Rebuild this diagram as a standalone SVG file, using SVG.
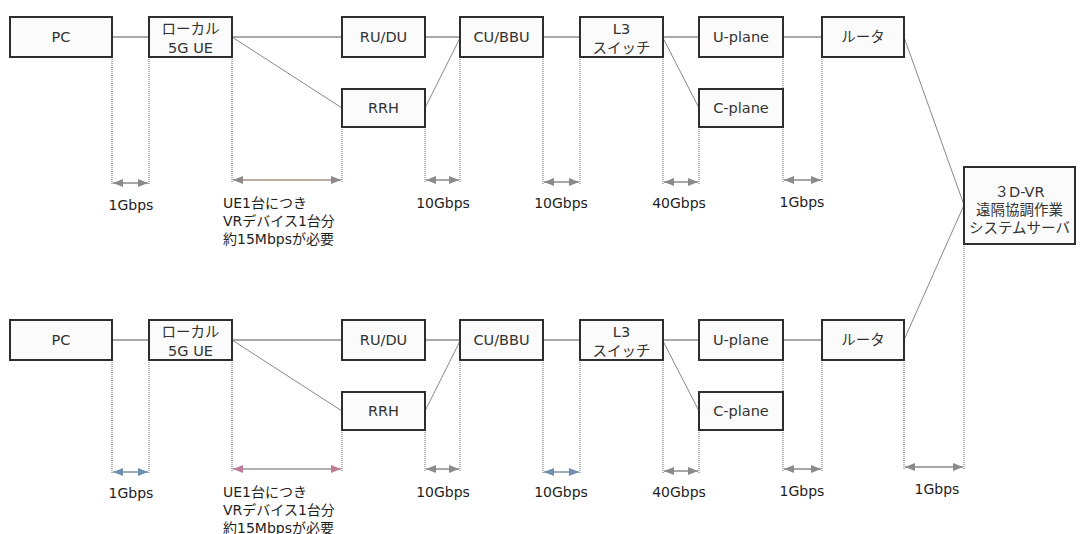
<svg xmlns="http://www.w3.org/2000/svg" width="1081" height="534" viewBox="0 0 1081 534">
<style>
.box{fill:#fbfbfb;stroke:#2e2e2e;stroke-width:2}
.bt{font-family:"DejaVu Sans","Noto Sans CJK JP",sans-serif;font-size:14.5px;fill:#333;text-anchor:middle}
.lb{font-family:"DejaVu Sans","Noto Sans CJK JP",sans-serif;font-size:14px;fill:#1e1e1e}
.c{text-anchor:middle}
.ln{stroke:#555;stroke-width:1;fill:none}
.dg{stroke:#888;stroke-width:1;fill:none}
.dt{stroke:#6a6a6a;stroke-width:1;stroke-dasharray:1 1;fill:none}
.ag{stroke:#8a8a8a;stroke-width:1.5;marker-start:url(#hg);marker-end:url(#hg)}
.ab{stroke:#7a90a8;stroke-width:1.5;marker-start:url(#hb);marker-end:url(#hb)}
.ap{stroke:#a09494;stroke-width:1.5;marker-start:url(#hp);marker-end:url(#hp)}
.ar{stroke:#a89080;stroke-width:1.5;marker-start:url(#hg);marker-end:url(#hg)}
</style>
<defs>
<marker id="hg" markerUnits="userSpaceOnUse" markerWidth="10" markerHeight="8" refX="10" refY="4" orient="auto-start-reverse"><path d="M0,0 L10,4 L0,8 z" fill="#8a8a8a"/></marker>
<marker id="hb" markerUnits="userSpaceOnUse" markerWidth="10" markerHeight="8" refX="10" refY="4" orient="auto-start-reverse"><path d="M0,0 L10,4 L0,8 z" fill="#6f8fb0"/></marker>
<marker id="hp" markerUnits="userSpaceOnUse" markerWidth="10" markerHeight="8" refX="10" refY="4" orient="auto-start-reverse"><path d="M0,0 L10,4 L0,8 z" fill="#c07c98"/></marker>
</defs>

<g id="connectors">
<line class="ln" x1="112" y1="37" x2="149" y2="37"/>
<line class="ln" x1="232" y1="37" x2="342" y2="37"/>
<line class="dg" x1="232" y1="37" x2="342" y2="108"/>
<line class="ln" x1="425" y1="37" x2="460" y2="37"/>
<line class="dg" x1="425" y1="108" x2="460" y2="38"/>
<line class="ln" x1="543" y1="37" x2="580" y2="37"/>
<line class="ln" x1="663" y1="37" x2="699" y2="37"/>
<line class="dg" x1="663" y1="38" x2="699" y2="108"/>
<line class="ln" x1="783" y1="37" x2="822" y2="37"/>
<line class="dg" x1="904" y1="37" x2="964" y2="205"/>
<line class="ln" x1="112" y1="340" x2="149" y2="340"/>
<line class="ln" x1="232" y1="340" x2="342" y2="340"/>
<line class="dg" x1="232" y1="340" x2="342" y2="411"/>
<line class="ln" x1="425" y1="340" x2="460" y2="340"/>
<line class="dg" x1="425" y1="411" x2="460" y2="341"/>
<line class="ln" x1="543" y1="340" x2="580" y2="340"/>
<line class="ln" x1="663" y1="340" x2="699" y2="340"/>
<line class="dg" x1="663" y1="341" x2="699" y2="411"/>
<line class="ln" x1="783" y1="340" x2="822" y2="340"/>
<line class="dg" x1="904" y1="340" x2="964" y2="205"/>

<path class="dt" d="M112,57V185 M149,57V185 M232,57V183 M342,127V183 M425,127V183 M460,57V183 M543,57V185 M580,57V185 M663,57V185 M699,127V185 M783,57V183 M822,57V183"/>
<path class="dt" d="M112,360V474 M149,360V474 M232,360V471 M342,430V471 M425,430V471 M460,360V471 M543,360V474 M580,360V474 M663,360V473 M699,430V473 M783,360V471 M822,360V471 M904,360V470 M964,244V470"/>

<line class="ag" x1="113" y1="183" x2="148" y2="183"/>
<line class="ar" x1="233" y1="180" x2="341" y2="180"/>
<line class="ag" x1="426" y1="180" x2="459" y2="180"/>
<line class="ag" x1="544" y1="182" x2="579" y2="182"/>
<line class="ag" x1="664" y1="182" x2="698" y2="182"/>
<line class="ag" x1="784" y1="180" x2="821" y2="180"/>
<line class="ab" x1="113" y1="472" x2="148" y2="472"/>
<line class="ap" x1="233" y1="469" x2="341" y2="469"/>
<line class="ag" x1="426" y1="469" x2="459" y2="469"/>
<line class="ab" x1="544" y1="472" x2="579" y2="472"/>
<line class="ag" x1="664" y1="471" x2="698" y2="471"/>
<line class="ag" x1="784" y1="469" x2="821" y2="469"/>
<line class="ag" x1="905" y1="467" x2="963" y2="467"/>
</g>

<g id="pc1"><rect class="box" x="10" y="17" width="102" height="40"/><text class="bt" x="61" y="42">PC</text></g>
<g id="ue1"><rect class="box" x="149" y="17" width="83" height="40"/><text class="bt" x="190.5" y="34">ローカル</text><text class="bt" x="190.5" y="53">5G UE</text></g>
<g id="rudu1"><rect class="box" x="342" y="17" width="83" height="40"/><text class="bt" x="383.5" y="42">RU/DU</text></g>
<g id="rrh1"><rect class="box" x="342" y="89" width="83" height="38"/><text class="bt" x="383.5" y="113">RRH</text></g>
<g id="cubbu1"><rect class="box" x="460" y="17" width="83" height="40"/><text class="bt" x="501.5" y="42">CU/BBU</text></g>
<g id="l31"><rect class="box" x="580" y="17" width="83" height="40"/><text class="bt" x="621.5" y="34">L3</text><text class="bt" x="621.5" y="53">スイッチ</text></g>
<g id="uplane1"><rect class="box" x="699" y="17" width="84" height="40"/><text class="bt" x="741" y="42">U-plane</text></g>
<g id="cplane1"><rect class="box" x="699" y="89" width="84" height="38"/><text class="bt" x="741" y="113">C-plane</text></g>
<g id="router1"><rect class="box" x="822" y="17" width="82" height="40"/><text class="bt" x="863" y="42">ルータ</text></g>

<g id="server"><rect class="box" x="964" y="167" width="111" height="77"/>
<text class="bt" x="1019.5" y="197">３D-VR</text>
<text class="bt" x="1019.5" y="215">遠隔協調作業</text>
<text class="bt" x="1019.5" y="233">システムサーバ</text></g>

<g id="pc2"><rect class="box" x="10" y="320" width="102" height="40"/><text class="bt" x="61" y="345">PC</text></g>
<g id="ue2"><rect class="box" x="149" y="320" width="83" height="40"/><text class="bt" x="190.5" y="337">ローカル</text><text class="bt" x="190.5" y="356">5G UE</text></g>
<g id="rudu2"><rect class="box" x="342" y="320" width="83" height="40"/><text class="bt" x="383.5" y="345">RU/DU</text></g>
<g id="rrh2"><rect class="box" x="342" y="392" width="83" height="38"/><text class="bt" x="383.5" y="416">RRH</text></g>
<g id="cubbu2"><rect class="box" x="460" y="320" width="83" height="40"/><text class="bt" x="501.5" y="345">CU/BBU</text></g>
<g id="l32"><rect class="box" x="580" y="320" width="83" height="40"/><text class="bt" x="621.5" y="337">L3</text><text class="bt" x="621.5" y="356">スイッチ</text></g>
<g id="uplane2"><rect class="box" x="699" y="320" width="84" height="40"/><text class="bt" x="741" y="345">U-plane</text></g>
<g id="cplane2"><rect class="box" x="699" y="392" width="84" height="38"/><text class="bt" x="741" y="416">C-plane</text></g>
<g id="router2"><rect class="box" x="822" y="320" width="82" height="40"/><text class="bt" x="863" y="345">ルータ</text></g>

<g id="labels-top">
<text class="lb c" x="131" y="210">1Gbps</text>
<text class="lb" x="223" y="208">UE1台につき</text>
<text class="lb" x="223" y="226">VRデバイス1台分</text>
<text class="lb" x="223" y="244">約15Mbpsが必要</text>
<text class="lb c" x="443" y="208">10Gbps</text>
<text class="lb c" x="561" y="208">10Gbps</text>
<text class="lb c" x="679" y="208">40Gbps</text>
<text class="lb c" x="802" y="207">1Gbps</text>
</g>
<g id="labels-bottom">
<text class="lb c" x="131" y="498">1Gbps</text>
<text class="lb" x="223" y="497">UE1台につき</text>
<text class="lb" x="223" y="515">VRデバイス1台分</text>
<text class="lb" x="223" y="533">約15Mbpsが必要</text>
<text class="lb c" x="443" y="497">10Gbps</text>
<text class="lb c" x="561" y="497">10Gbps</text>
<text class="lb c" x="679" y="497">40Gbps</text>
<text class="lb c" x="802" y="496">1Gbps</text>
<text class="lb c" x="937" y="494">1Gbps</text>
</g>
</svg>
